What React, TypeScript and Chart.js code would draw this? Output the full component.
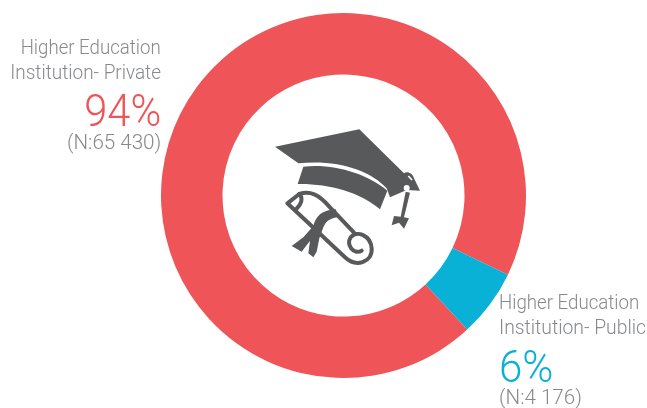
import React, { useEffect, useRef } from "react";
import { Chart, registerables } from "chart.js";

Chart.register(...registerables);

const categories = ["Higher Education Institution- Private", "Higher Education Institution- Public"];
const counts = [65430, 4176];
const percents = ["94%", "6%"];
const countLabels = ["(N:65 430)", "(N:4 176)"];
const colors = ["#EF5558", "#0AB1D6"];

const font = 'Roboto, "Liberation Sans", sans-serif';
const gray = "#87898C";

function Text({ x, y, size, color, align, sx, children }: any) {
  const pos: any = align === "right" ? { right: 647 - x } : { left: x };
  return (
    <div
      style={{
        position: "absolute",
        top: y,
        ...pos,
        fontFamily: font,
        fontWeight: 300,
        fontSize: size,
        color,
        lineHeight: 1,
        whiteSpace: "nowrap",
        transform: `scaleX(${sx})`,
        transformOrigin: align === "right" ? "100% 50%" : "0% 50%",
      }}
    >
      {children}
    </div>
  );
}

function Icon() {
  return (
    <svg width={170} height={160} viewBox="0 0 510 480" style={{ position: "absolute", left: 260, top: 120 }}>
      <g fill="#58595B">
        <path d="M45 80 L298 28 L432 160 C440 152 458 158 462 175 L480 212 L440 210 L390 232 L380 205 C330 150 230 118 115 130 Z" />
        <path d="M130 140 C220 130 320 160 382 212 L360 268 C300 215 200 190 113 192 Z" />
        <path d="M437 215 L450 218 L432 292 L447 295 L432 326 L417 308 L395 316 L402 288 L422 290 Z" />
      </g>
      <circle cx="440" cy="204" r="9" fill="#fff" />
      <path d="M445 168 L456 180" stroke="#fff" strokeWidth="5" fill="none" />
      <g fill="none" stroke="#58595B" strokeWidth="12" strokeLinejoin="round" strokeLinecap="round">
        <path d="M118 222 L82 250 L255 412 C290 445 338 425 335 385 C332 345 290 330 272 352 C258 375 280 405 305 392" />
        <path d="M118 222 C128 232 128 248 108 268" />
        <path d="M118 222 C150 212 175 222 210 262 L282 338" />
      </g>
      <path d="M160 318 C168 288 185 270 228 268 L232 292 C208 296 198 304 190 322 L178 355 L170 395 L160 412 L145 400 L150 362 L125 395 L95 378 L130 352 Z" fill="#58595B" />
    </svg>
  );
}

export default function App() {
  const ref = useRef<HTMLCanvasElement>(null);
  useEffect(() => {
    const chart = new Chart(ref.current!, {
      type: "doughnut",
      data: {
        labels: categories,
        datasets: [{ data: counts, backgroundColor: colors, borderWidth: 0, hoverOffset: 0 }],
      },
      options: {
        animation: false,
        responsive: false,
        rotation: 137.3,
        radius: 182.5,
        cutout: "66.3%",
        layout: { padding: { left: 40, bottom: 17 } },
        plugins: { legend: { display: false }, tooltip: { enabled: false } },
      } as any,
    });
    return () => chart.destroy();
  }, []);
  return (
    <div style={{ position: "absolute", left: 0, top: 0, width: 647, height: 408, overflow: "hidden", background: "#fff" }}>
      <canvas ref={ref} width={647} height={408} style={{ position: "absolute", left: 0, top: 0 }} />
      <Icon />
      <Text x={161} y={37} size={21} sx={0.888} color={gray} align="right">Higher Education</Text>
      <Text x={161} y={62} size={21} sx={0.903} color={gray} align="right">Institution- Private</Text>
      <Text x={161} y={88} size={45} sx={0.925} color={colors[0]} align="right">{percents[0]}</Text>
      <Text x={161} y={132} size={21} sx={0.98} color={gray} align="right">{countLabels[0]}</Text>
      <Text x={499} y={292} size={21} sx={0.89} color={gray} align="left">Higher Education</Text>
      <Text x={499} y={317} size={21} sx={0.92} color={gray} align="left">Institution- Public</Text>
      <Text x={499} y={344} size={45} sx={0.935} color={colors[1]} align="left">{percents[1]}</Text>
      <Text x={499} y={387} size={21} sx={0.98} color={gray} align="left">{countLabels[1]}</Text>
    </div>
  );
}
